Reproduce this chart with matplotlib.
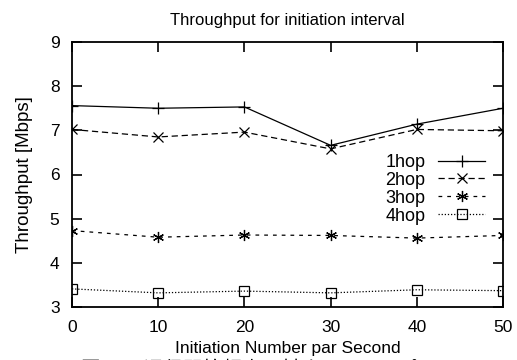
import matplotlib
matplotlib.use("Agg")
import matplotlib.pyplot as plt

plt.rcParams['font.family'] = ['Liberation Sans', 'Noto Sans CJK JP', 'DejaVu Sans']

x = [0, 10, 20, 30, 40, 50]
hop1 = [7.56, 7.50, 7.53, 6.66, 7.14, 7.50]
hop2 = [7.02, 6.85, 6.96, 6.58, 7.02, 6.99]
hop3 = [4.73, 4.58, 4.63, 4.62, 4.56, 4.62]
hop4 = [3.41, 3.32, 3.36, 3.32, 3.39, 3.37]
labels = ["1hop", "2hop", "3hop", "4hop"]

fig = plt.figure(figsize=(5.17, 3.6), dpi=100)
ax = fig.add_axes([72/517, 1-307/360, 431/517, 265/360])

ax.plot(x, hop1, color="black", lw=0.9, ls="-", marker="+", ms=9, mew=0.9, label=labels[0])
ax.plot(x, hop2, color="black", lw=0.9, ls=(0, (5, 3)), marker="x", ms=7, mew=0.9, label=labels[1])
ax.plot(x, hop3, color="black", lw=0.9, ls=(0, (3, 4)), marker=(6, 2, 0), ms=8, mew=0.9, label=labels[2])
ax.plot(x, hop4, color="black", lw=0.9, ls=(0, (1, 1.5)), marker="s", ms=7, mew=0.9,
        mfc="none", label=labels[3])

ax.set_xlim(0, 50)
ax.set_ylim(3, 9)
ax.set_xticks(x)
ax.set_yticks([3, 4, 5, 6, 7, 8, 9])
ax.tick_params(direction="in", length=7, width=1.2, top=True, right=True, labelsize=12.5, pad=9)
for s in ax.spines.values():
    s.set_linewidth(1.3)

ax.set_title("Throughput for initiation interval", fontsize=12, pad=12)
ax.set_ylabel("Throughput [Mbps]", fontsize=13.5, labelpad=12)
ax.set_xlabel("Initiation Number par Second", fontsize=12.5, labelpad=5)

leg = ax.legend(loc="upper right", bbox_to_anchor=(0.975, 0.605), frameon=False, markerfirst=False,
                fontsize=13, handlelength=2.6, labelspacing=0.05, handletextpad=0.7, borderaxespad=0)

fig.text(0.52, -0.052, "図 4.4  通信開始頻度に対するスループット", ha="center", va="bottom", fontsize=14)

fig.savefig("out.png", dpi=100)
